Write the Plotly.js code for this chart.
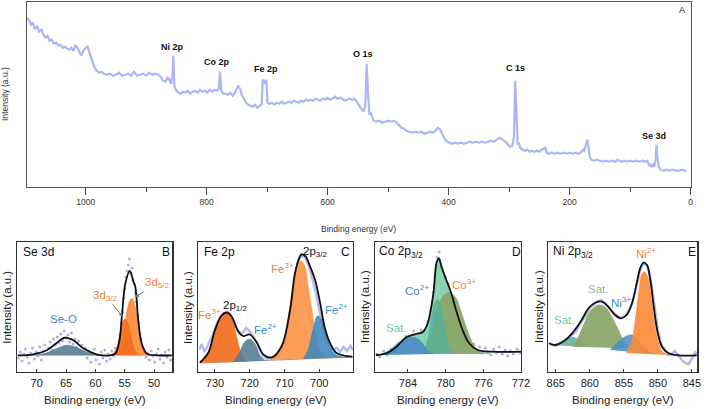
<!DOCTYPE html>
<html><head><meta charset="utf-8">
<script src="https://cdn.plot.ly/plotly-3.0.1.min.js"></script>
<style>html,body{margin:0;padding:0;background:#fff}#chart{width:709px;height:409px}</style>
</head><body><div id="chart"></div>
<script>
// ---------- Panel A: survey spectrum [binding energy eV, intensity a.u.] ----------
const survey = [[1097,169],[1093,166],[1090,162],[1087,164],[1084,158],[1080,160],[1077,155],[1073,157],[1070,152],[1066,149],[1063,151],[1060,146],[1056,147],[1053,143],[1049,144],[1045,141],[1042,142],[1038,139],[1034,140],[1031,138],[1027,137],[1024,139],[1020,136],[1017,142],[1013,138],[1010,134],[1007,131],[1004,136],[1000,139],[997,140],[994,135],[990,127],[986,120],[982,116],[978,114],[974,115],[970,113],[965,112],[960,113],[955,111],[950,112],[945,114],[940,111],[935,112],[930,113],[925,111],[920,115],[915,111],[910,112],[905,113],[900,111],[895,114],[890,112],[885,113],[880,112],[876,110],[872,106],[868,105],[865,109],[862,108],[859,103],[856.5,110],[855,131],[853.5,101],[851,97],[847,94],[843,93],[839,95],[835,94],[831,96],[827,93],[823,95],[819,96],[815,94],[811,97],[807,95],[803,96],[799,94],[795,97],[791,95],[787,97],[783,96],[780,98],[778,115],[776,96],[773,93],[769,93],[765,92],[761,94],[757,91],[754,93],[751,97],[748,101],[745,98],[742,92],[739,89],[736,85],[732,82],[728,81],[724,80],[720,82],[716,79],[712,81],[709,83],[707.5,107],[704,104],[701.5,107],[699.5,84],[696,83],[692,84],[688,82],[684,84],[680,83],[676,85],[672,83],[668,84],[664,85],[660,84],[656,86],[652,85],[648,84],[644,86],[640,85],[636,87],[632,86],[628,87],[624,86],[620,88],[616,87],[612,86],[608,88],[604,87],[600,89],[596,87],[592,88],[588,90],[584,88],[580,89],[576,88],[572,86],[568,87],[564,88],[560,87],[556,88],[552,85],[548,81],[544,77],[541,75],[538,80],[535.5,123],[533,90],[531,72],[529,74],[527,71],[524,66],[520,65],[515,66],[510,64],[505,65],[500,66],[495,65],[490,66],[486,64],[482,61],[478,59],[474,58],[470,56],[465,55],[460,54],[455,55],[450,54],[445,55],[440,53],[435,54],[430,55],[426,54],[422,56],[418,59],[414,57],[410,52],[406,47],[402,45],[398,44],[394,43],[390,44],[385,43],[380,44],[375,43],[370,44],[365,45],[360,44],[355,45],[350,44],[345,45],[340,44],[335,45],[330,46],[325,45],[320,47],[316,49],[313,48],[310,47],[306,45],[302,42],[298,40],[295,41],[292,50],[290,106],[288,60],[286,42],[284,44],[282,39],[278,37],[274,36],[270,37],[266,35],[262,36],[258,35],[254,36],[250,35],[246,37],[242,38],[240,39],[238,34],[234,33],[230,34],[225,33],[220,34],[215,33],[210,34],[205,33],[200,34],[195,33],[190,34],[186,33],[182,34],[178,37],[176,36],[173,43],[171,47],[169,40],[167,30],[164,27],[160,26],[155,27],[150,26],[145,25],[140,26],[135,25],[130,26],[125,25],[121,27],[118,26],[114,25],[110,26],[105,25],[100,26],[95,25],[90,26],[85,25],[80,26],[76,25],[72,26],[70,24],[68,21],[66,22],[64,20],[62,22],[60,20],[58,28],[56.5,42],[55,30],[53,20],[50,17],[45,16],[40,17],[35,16],[30,17],[25,16],[20,16],[15,17],[10,16],[7,16]];
const surveyLabels = ['Ni 2p','Co 2p','Fe 2p','O 1s','C 1s','Se 3d'];

// ---------- Panel B: Se 3d ----------
const seDots = [[73.1,14],[72.8,20],[72.5,11],[72.2,18],[71.9,23],[71.6,15],[71.3,9],[71.0,19],[70.7,24],[70.4,13],[70.1,20],[69.8,16],[69.5,25],[69.2,12],[68.9,21],[68.6,27],[68.3,18],[68.0,24],[67.7,30],[67.4,22],[67.1,33],[66.8,27],[66.5,35],[66.2,29],[65.9,38],[65.6,31],[65.3,41],[65.0,34],[64.7,37],[64.4,30],[64.1,39],[63.8,28],[63.5,33],[63.2,25],[62.9,31],[62.6,21],[62.3,27],[62.0,18],[61.7,24],[61.4,14],[61.1,21],[60.8,10],[60.5,19],[60.2,23],[59.9,12],[59.6,17],[59.3,8],[59.0,20],[58.7,14],[58.4,22],[58.1,11],[57.8,18],[57.5,13],[57.2,21],[56.9,16],[56.6,24],[56.3,19],[56.0,28],[55.8,37],[55.6,49],[55.4,60],[55.2,74],[55.0,83],[54.8,95],[54.6,101],[54.4,107],[54.2,113],[54.0,99],[53.8,104],[53.6,92],[53.4,88],[53.2,79],[53.0,70],[52.8,57],[52.6,49],[52.4,38],[52.2,33],[52.0,25],[51.7,22],[51.4,15],[51.1,19],[50.8,12],[50.5,21],[50.2,16],[49.9,10],[49.6,18],[49.3,23],[49.0,13],[48.7,17],[48.4,9],[48.1,20],[47.8,15],[47.5,22],[47.2,12]];
const seFit = [[73.2,16.7],[70.6,17.7],[68.3,21.7],[66.6,29],[65.2,34.4],[63.75,31.7],[62.0,23.4],[59.8,17.7],[57.5,16.7],[56.6,18.4],[55.9,31.7],[55.5,55],[54.9,88.4],[54.15,101],[53.5,90],[53.2,85],[52.7,51.7],[52.1,28.4],[51.25,18.4],[49.5,16.7],[47,16.7]];
const seO = [[70.5,16.7],[68.3,19],[66.6,23.4],[64.9,26.7],[63.2,24.4],[61.5,20],[59.8,17],[58.6,16.7]];
const se52 = [[56.1,16.7],[55.2,31.7],[54.7,58.4],[54.1,71.7],[53.7,73.4],[53.2,65],[52.7,45],[52.1,28.4],[51.25,18.4],[50.1,16.7]];
const se32 = [[57.2,16.7],[56.4,23.4],[55.7,41.7],[55.1,52.4],[54.7,51.7],[54.1,40],[53.5,25],[52.8,17.7],[52.1,16.7]];
const seBase = [[73.3,16.7],[47,16.7]];

// ---------- Panel C: Fe 2p ----------
const feRaw = [[734.5,22],[733.8,28],[733,20],[732.2,26],[731.5,30],[730.5,38],[729.5,48],[728.5,55],[727.5,59],[726.5,60],[725.5,56],[724.5,48],[723.5,42],[722.5,38],[721.8,40],[721,44],[720,41],[719,36],[718,30],[717,22],[716,16],[715,13],[714,15],[713,14],[712,17],[711,20],[710,30],[709,48],[708,68],[707,95],[706,112],[705,117],[704,114],[703,106],[702,94],[701,80],[700,62],[699,44],[698,34],[697,26],[696,22],[695,24],[694,20],[693,25],[692,21],[691,26],[690.4,22]];
const feFit = [[734.3,9.5],[731.9,19.5],[730,42],[728.1,56.5],[726.6,59.5],[725.2,55.5],[723.3,40.5],[721.9,36],[720,37.5],[718,29.5],[716.1,17.5],[713.7,14.5],[710.8,26],[708.4,62],[707,98.7],[705.8,113.7],[705.1,117.7],[703.9,115.3],[702.7,106],[701.2,92],[699.8,70],[698.4,44],[696.9,29],[695,19],[690.5,15.3]];
const fe3p12 = [[734.3,9.3],[731.9,18.7],[730,42],[728.1,56],[726.6,58.7],[725.2,53.7],[723.8,35.3],[722.3,17],[720.9,10.3]];
const fe2p12 = [[724.7,10.3],[722.8,20.3],[721.4,30.3],[719.9,32.7],[718.5,28],[717.1,17],[715.6,11.3]];
const fe3p32 = [[714.2,12],[710.8,25.3],[708.9,55.3],[707.5,88.7],[706.2,107],[705.3,111],[704.1,105.3],[703.2,85.3],[702,58.7],[700.8,32],[699.3,18.7],[697.4,14]];
const fe2p32 = [[704.6,13.1],[703.2,22],[701.7,43.7],[700.5,56],[699.3,52],[697.9,35.3],[696.4,22],[694.5,16],[691.6,14.8]];
const feBase = [[734.6,9],[690.3,15]];

// ---------- Panel D: Co 2p3/2 ----------
const coDots = [[787.3,18],[787.0,15],[786.6,21],[786.2,17],[785.8,23],[785.4,20],[785.0,28],[784.6,31],[784.2,36],[783.8,33],[783.4,41],[783.0,38],[782.6,42],[782.2,40],[781.9,50],[781.6,62],[781.3,80],[781.1,98],[780.9,115],[780.7,120],[780.5,108],[780.3,101],[780.0,95],[779.7,88],[779.4,77],[779.1,70],[778.8,58],[778.5,52],[778.2,44],[777.9,36],[777.6,31],[777.3,26],[777.0,28],[776.7,22],[776.4,25],[776.1,19],[775.8,24],[775.5,20],[775.2,17],[774.9,23],[774.6,19],[774.3,25],[774.0,18],[773.7,22],[773.4,16],[773.1,21],[772.8,18],[772.4,23],[772.1,19]];
const coFit = [[787.4,17],[786.3,18.7],[785.2,25.3],[784.2,34.7],[783.3,37.7],[782.4,40.3],[781.9,48.7],[781.3,78.7],[780.95,110],[780.7,113.7],[780.5,107],[780.0,93.7],[779.4,78.7],[778.9,62],[778.2,42],[777.5,28.7],[776.6,22],[775.0,20.3],[772,20.3]];
const coSat = [[787,17],[785.9,22],[784.9,30.3],[783.8,34.7],[782.9,32.7],[782.2,25.3],[781.7,19.3],[781.3,18]];
const co3 = [[782.2,18],[781.5,38.7],[780.8,65.3],[780.3,75.3],[779.75,79.3],[779,75.3],[778.3,58.7],[777.6,38.7],[776.9,25.3],[776.2,19.3],[775.3,18]];
const co2 = [[782.4,18],[781.9,32],[781.4,58.7],[781.1,70.3],[780.8,72],[780.5,63.7],[780.1,45.3],[779.75,28.7],[779.2,19.3]];

// ---------- Panel E: Ni 2p3/2 ----------
const niRaw = [[866,29],[865.5,27],[865,26],[864,30],[863,34],[862,41],[861,52],[860,64],[859,70],[858.3,72],[857.5,67],[856.5,59],[855.5,54],[854.5,58],[853.8,68],[853,90],[852.5,104],[852,109],[851.5,106],[851,90],[850.5,64],[850,42],[849.5,28],[849,22],[848.5,17],[848,18],[847.5,21],[847,17],[846.5,12],[846,9],[845.5,8],[845,13],[844.5,20],[844.2,18]];
const niFit = [[866,28.7],[865.1,27],[863.6,32],[862.6,38.7],[862.2,42],[861.2,52],[860.2,63.7],[859.2,69.3],[858.2,70.3],[857.3,65.3],[856.3,57],[855.4,53.7],[854.6,57],[853.8,68.7],[853.1,88.7],[852.6,103.7],[852.1,109.3],[851.6,107],[851.1,92],[850.6,65.3],[850.1,42],[849.4,25.3],[848.4,18.7],[847,16.7],[844.3,16.7]];
const niSatS = [[865.8,27],[864.6,28.7],[863.4,32],[862.4,34.7],[861.4,30.3],[860.7,25.3]];
const niSatB = [[862.6,25.3],[861.9,32],[860.9,47],[860,60.3],[858.7,67],[857.7,64.7],[856.8,55.3],[855.8,42],[855,30.3],[854.3,23.7]];
const ni3 = [[857,22],[856,28.7],[854.8,35.3],[853.8,37],[853.1,33.7],[852.4,27],[851.4,21.3],[850.4,18]];
const ni2 = [[854.6,18.7],[853.8,32],[853.3,52],[852.8,78.7],[852.4,97],[852,100.3],[851.5,95.3],[851,75.3],[850.5,48.7],[849.9,28.7],[849.2,19.3],[848.2,17]];

// ---------- helpers ----------
const FONT = 'Arial, "Liberation Sans", sans-serif';
const W = 709, H = 409;
const px = x => x / W, py = y => 1 - y / H;
const X = a => a.map(p => p[0]), Y = a => a.map(p => p[1]);

function fillT(pts, ax, color) {
  return {type:'scatter', mode:'lines', x:X(pts), y:Y(pts), xaxis:'x'+ax, yaxis:'y'+ax,
    line:{color:color, width:0.8, shape:'spline', smoothing:1}, fill:'toself', fillcolor:color, hoverinfo:'skip'};
}
function lineT(pts, ax, color, w, spline) {
  return {type:'scatter', mode:'lines', x:X(pts), y:Y(pts), xaxis:'x'+ax, yaxis:'y'+ax,
    line:{color:color, width:w, shape: spline ? 'spline' : 'linear', smoothing:1}, hoverinfo:'skip'};
}
function dotT(pts, ax) {
  return {type:'scatter', mode:'markers', x:X(pts), y:Y(pts), xaxis:'x'+ax, yaxis:'y'+ax,
    marker:{color:'rgba(150,150,225,0.75)', size:3}, hoverinfo:'skip'};
}

const ORANGE = 'rgba(251,139,58,0.92)', DORANGE = 'rgba(242,108,30,0.92)';
const BLUE = 'rgba(60,135,190,0.88)', GBLUE = 'rgba(90,125,148,0.9)';
const OLIVE = 'rgba(138,165,104,0.92)', MINT = 'rgba(134,209,176,0.95)', TEAL = 'rgba(88,176,150,0.85)';
const LAV = 'rgb(184,186,238)';

const data = [
  lineT(survey, '', 'rgb(172,182,245)', 2.2, false),
  // B
  dotT(seDots, 2),
  lineT(seBase, 2, '#e2c48a', 1, false),
  fillT(seO, 2, GBLUE),
  fillT(se52, 2, ORANGE),
  fillT(se32, 2, DORANGE),
  lineT(seFit, 2, '#111', 1.8, true),
  // C
  lineT(feRaw, 3, LAV, 2.5, false),
  lineT(feBase, 3, '#999', 1, false),
  fillT(fe3p12, 3, DORANGE),
  fillT(fe2p12, 3, GBLUE),
  fillT(fe3p32, 3, 'rgba(252,150,74,0.92)'),
  fillT(fe2p32, 3, BLUE),
  lineT(feFit, 3, '#111', 1.8, true),
  // D
  dotT(coDots, 4),
  fillT(coFit, 4, MINT),
  fillT(co3, 4, OLIVE),
  fillT(co2, 4, TEAL),
  fillT(coSat, 4, 'rgba(74,141,196,0.9)'),
  lineT(coFit, 4, '#111', 1.8, true),
  // E
  lineT(niRaw, 5, LAV, 2.5, false),
  fillT(niSatS, 5, TEAL),
  fillT(niSatB, 5, OLIVE),
  fillT(ni3, 5, 'rgba(74,144,200,0.88)'),
  fillT(ni2, 5, ORANGE),
  lineT(niFit, 5, '#111', 1.8, true)
];
data[0].xaxis = 'x'; data[0].yaxis = 'y';

const yDomB = [py(372), py(242.3)];
function botX(dom, range, dtick) {
  return {domain:dom, range:range, autorange:false, dtick:dtick, tick0:0, showgrid:false, zeroline:false,
    showline:true, mirror:true, linecolor:'#333', linewidth:1.3, ticks:'inside', ticklen:3, tickcolor:'#333',
    tickfont:{family:FONT, size:11, color:'#222'}};
}
function botY(anchor) {
  return {domain:yDomB, range:[0,129.7], autorange:false, showgrid:false, zeroline:false, showticklabels:false,
    ticks:'', showline:true, mirror:true, linecolor:'#333', linewidth:1.3, anchor:anchor};
}

const layout = {
  width:W, height:H, margin:{l:0,r:0,t:0,b:0}, paper_bgcolor:'#fff', plot_bgcolor:'#fff', showlegend:false,
  font:{family:FONT},
  xaxis:{domain:[px(27), px(690.7)], range:[1097,0], autorange:false, dtick:200, tick0:0, showgrid:false, zeroline:false,
    showline:true, mirror:true, linecolor:'#555', linewidth:1.5, ticks:'outside', ticklen:7, tickwidth:1.4, tickcolor:'#444',
    minor:{dtick:100, ticks:'outside', ticklen:4, tickcolor:'#444', tickwidth:1.2},
    tickfont:{family:FONT, size:8.5, color:'#333'}, anchor:'y'},
  yaxis:{domain:[py(186.7), py(2)], range:[0,184.7], autorange:false, showgrid:false, zeroline:false, showticklabels:false,
    ticks:'', showline:true, mirror:true, linecolor:'#555', linewidth:1.5, anchor:'x'},
  xaxis2:Object.assign(botX([px(17.3), px(172.3)], [73.3,46.9], 5), {anchor:'y2'}),
  yaxis2:botY('x2'),
  xaxis3:Object.assign(botX([px(198.3), px(353)], [734.8,690.3], 10), {anchor:'y3'}),
  yaxis3:botY('x3'),
  xaxis4:Object.assign(botX([px(375), px(521)], [787.5,772], 4), {anchor:'y4'}),
  yaxis4:botY('x4'),
  xaxis5:Object.assign(botX([px(548.3), px(697.3)], [866.1,844.2], 5), {anchor:'y5'}),
  yaxis5:botY('x5'),
  annotations:[]
};

function ann(text, x, y, size, color, opts) {
  layout.annotations.push(Object.assign({text:text, x:px(x), y:py(y), xref:'paper', yref:'paper', showarrow:false,
    xanchor:'center', yanchor:'middle', font:{family:FONT, size:size, color:color}}, opts || {}));
}

// Panel A texts
const surveyLabelPos = [[172.3,46.7],[216.7,61.7],[265.7,69],[363.3,54.3],[515,68.3],[654.3,135.7]];
surveyLabels.forEach((t,i) => ann('<b>'+t+'</b>', surveyLabelPos[i][0], surveyLabelPos[i][1], 9, '#111'));
ann('A', 681.7, 10, 9, '#222');
ann('Binding energy (eV)', 358, 229, 8.5, '#333');
ann('Intensity (a.u.)', 5, 94, 8.5, '#333', {textangle:-90});

// bottom axis titles
[[94.8,6.7],[275.7,188],[448,365],[622.8,539]].forEach(p => {
  ann('Binding energy (eV)', p[0], 400, 11.5, '#222');
  ann('Intensity (a.u.)', p[1], 307, 11.5, '#222', {textangle:-90});
});

// panel headers
ann('Se 3d', 20.5, 252, 12, '#111', {xanchor:'left'});
ann('B', 165.7, 252, 12, '#111');
ann('Fe 2p', 201.5, 252, 12, '#111', {xanchor:'left'});
ann('C', 345, 252, 12, '#111');
ann('Co 2p<sub>3/2</sub>', 377.5, 252, 12, '#111', {xanchor:'left'});
ann('D', 516.5, 252, 12, '#111');
ann('Ni 2p<sub>3/2</sub>', 550.5, 252, 12, '#111', {xanchor:'left'});
ann('E', 691.5, 252, 12, '#111');

const LO = '#f5822e', LB = '#3d8cc4', LM = '#6fc9a8', LG = '#7cbf9a';
// B peak labels
ann('Se-O', 63.3, 318.7, 11.5, LB);
layout.annotations.push({text:'3d<sub>3/2</sub>', x:px(122.7), y:py(316.7), xref:'paper', yref:'paper', showarrow:true,
  ax:-17, ay:-21, arrowhead:2, arrowsize:0.8, arrowwidth:1, arrowcolor:'#777', font:{family:FONT, size:11.5, color:LO}});
layout.annotations.push({text:'3d<sub>5/2</sub>', x:px(135), y:py(297.3), xref:'paper', yref:'paper', showarrow:true,
  ax:22, ay:-14, arrowhead:2, arrowsize:0.8, arrowwidth:1, arrowcolor:'#777', font:{family:FONT, size:11.5, color:LO}});
// C peak labels
ann('2p<sub>3/2</sub>', 315.7, 252.3, 11.5, '#111');
ann('Fe<sup>3+</sup>', 282, 267.5, 11.5, LO);
ann('Fe<sup>2+</sup>', 336, 309, 11.5, LB);
ann('Fe<sup>3+</sup>', 209.5, 313.5, 11.5, LO);
ann('2p<sub>1/2</sub>', 235.5, 306, 11.5, '#111');
ann('Fe<sup>2+</sup>', 265, 328.7, 11.5, LB);
// D peak labels
ann('Co<sup>2+</sup>', 417.3, 290, 11.5, LB);
ann('Co<sup>3+</sup>', 464, 283.7, 11.5, LO);
ann('Sat.', 396.3, 327.7, 11.5, LM);
// E peak labels
ann('Ni<sup>2+</sup>', 645.7, 252.7, 11.5, LO);
ann('Sat.', 598.3, 289.3, 11.5, LG);
ann('Ni<sup>3+</sup>', 621.3, 302, 11.5, LB);
ann('Sat.', 563.7, 320.3, 11.5, LM);

Plotly.newPlot('chart', data, layout, {staticPlot:true, displayModeBar:false});
</script>
</body></html>
